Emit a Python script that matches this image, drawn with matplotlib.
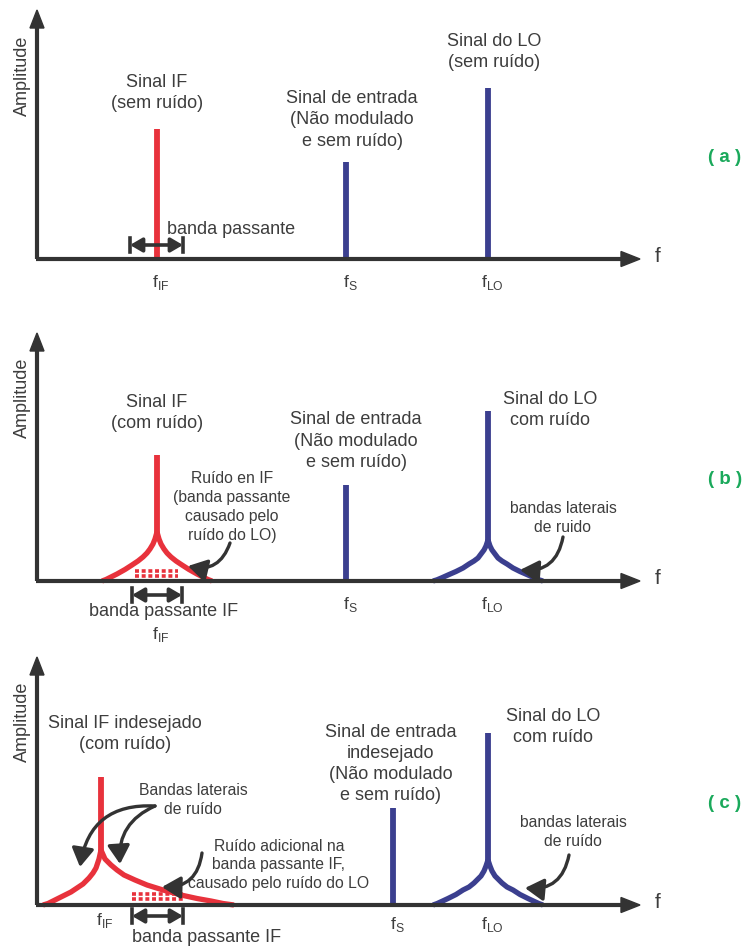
import matplotlib
matplotlib.use("Agg")
import matplotlib.pyplot as plt
from matplotlib.patches import Polygon

plt.rcParams['font.family'] = ['Liberation Sans', 'DejaVu Sans']
plt.rcParams['mathtext.fontset'] = 'custom'
plt.rcParams['mathtext.rm'] = 'Liberation Sans'

# ---------------- data (units: px-like offsets from the axes origin) -------------
panel_ids = ["a", "b", "c"]
panel_baseline = [259, 581, 905]          # baseline row of each panel
panel_top = [0, 320, 640]
freq_labels = [r"$\mathrm{f}_{\mathrm{IF}}$", r"$\mathrm{f}_{\mathrm{S}}$", r"$\mathrm{f}_{\mathrm{LO}}$"]

# spectral lines: [IF, S, LO]
freq_a = [120, 309, 451]
amp_a = [130, 97, 171]
freq_b = [120, 309, 451]
amp_b = [126, 96, 170]
freq_c = [64, 356, 451]
amp_c = [128, 97, 172]

# noise skirts: offset from carrier, height
skirt_b_if_d = [0, 2, 4, 7, 10, 14, 19, 25, 32, 40, 46, 51, 55]
skirt_b_if_h = [49, 42, 37, 32, 28, 24, 20, 16, 11.5, 7, 4, 1.5, 0]
skirt_b_lo_d = [0, 2, 4, 7, 10, 14, 19, 25, 32, 40, 46, 51, 55]
skirt_b_lo_h = [41, 35, 31, 27, 23, 20, 17, 13, 9.5, 6, 3.3, 1.2, 0]
skirt_c_if_left_d = [0, -2, -5, -8, -12, -18, -24, -30, -40, -47, -53, -58]
skirt_c_if_left_h = [55, 46, 37, 32, 27, 21, 17, 13, 8, 4.5, 1.5, 0]
skirt_c_if_right_d = [0, 4, 10, 16, 23, 34, 46, 62, 80, 96, 110, 122, 133]
skirt_c_if_right_h = [55, 46, 40, 35, 30, 25, 20, 15, 10, 6.5, 4, 1.5, 0]
skirt_c_lo_d = [0, 2, 4, 7, 10, 14, 19, 25, 32, 40, 46, 51, 55]
skirt_c_lo_h = [45, 39, 34, 29, 26, 22, 18, 15, 10.5, 6.5, 3.7, 1.4, 0]

# IF passband (x range) and noise rows inside it
band_b = [95, 145]
band_c = [95, 146]
noise_b_x = [98, 141]
noise_b_rows = [5, 10]
noise_c_x = [95, 146]
noise_c_rows = [6, 11]

RED = "#e8323c"
BLUE = "#3b3f8f"
AX = "#333333"
TXT = "#3d3d3d"
GREEN = "#1aa95b"

FS = 13
FS_SMALL = 11.3
LS = 1.31

W, H = 747, 948
fig = plt.figure(figsize=(W / 100, H / 100), dpi=100)
fig.patch.set_facecolor("white")

axes = {}
for pid, base, top in zip(panel_ids, panel_baseline, panel_top):
    ax = fig.add_axes([0, (H - base) / H, 1, (base - top) / H])
    ax.set_xlim(-37, W - 37)
    ax.set_ylim(0, base - top)
    ax.axis("off")
    axes[pid] = ax


def draw_axes(ax, ytip=248, xtip=603):
    ax.plot([0, 0], [0, ytip - 14], color=AX, lw=3, clip_on=False, solid_capstyle="butt")
    ax.plot([-1, xtip - 14], [0, 0], color=AX, lw=3, clip_on=False, solid_capstyle="butt", zorder=5)
    ax.add_patch(Polygon([[-7, ytip - 18], [7, ytip - 18], [0, ytip]], closed=True,
                         color=AX, clip_on=False))
    ax.add_patch(Polygon([[xtip - 19, -7.5], [xtip - 19, 7.5], [xtip, 0]], closed=True,
                         color=AX, clip_on=False, zorder=5))
    ax.text(621, 2, "f", fontsize=15, color=TXT, ha="center", va="center")
    ax.text(-15, 183, "Amplitude", fontsize=FS, color=TXT, rotation=90,
            ha="center", va="center")


def spikes(ax, freqs, amps, starts=(0, 0, 0)):
    colors = [RED, BLUE, BLUE]
    for f, a, c, s in zip(freqs, amps, colors, starts):
        ax.plot([f, f], [s, a], color=c, lw=4.2, solid_capstyle="butt", clip_on=False, zorder=3)


def skirt(ax, f0, d, h, color, mirror=True):
    ax.plot([f0 + v for v in d], h, color=color, lw=3.8, clip_on=False, zorder=3,
            solid_joinstyle="round", solid_capstyle="butt")
    if mirror:
        ax.plot([f0 - v for v in d], h, color=color, lw=3.8, clip_on=False, zorder=3,
                solid_joinstyle="round", solid_capstyle="butt")


def flabels(ax, freqs, ys):
    for f, lab, y in zip(freqs, freq_labels, ys):
        ax.text(f + 4, y, lab, fontsize=12.5, color=TXT, ha="center", va="center")


def bracket(ax, x0, x1, y):
    ax.annotate("", xy=(x1, y), xytext=(x0, y),
                arrowprops=dict(arrowstyle="<|-|>,head_length=0.6,head_width=0.35",
                                lw=2.6, color=AX, shrinkA=0, shrinkB=0,
                                mutation_scale=12), annotation_clip=False)
    for x in (x0, x1):
        ax.plot([x, x], [y - 7, y + 7], color=AX, lw=2.6, clip_on=False)


def noise(ax, xs, rows):
    for r in rows:
        ax.plot(xs, [r, r], color=RED, lw=2.6, dashes=(1.1, 0.75), clip_on=False,
                solid_capstyle="butt", dash_capstyle="butt", zorder=2)


def carrow(ax, start, end, rad):
    ax.annotate("", xy=end, xytext=start,
                arrowprops=dict(arrowstyle="-|>,head_length=0.75,head_width=0.45",
                                lw=2.4, color=AX, shrinkA=0, shrinkB=0,
                                mutation_scale=15,
                                connectionstyle=f"arc3,rad={rad}"),
                annotation_clip=False)


def tag(ax, s):
    ax.text(688, 102, s, fontsize=13.5, fontweight="bold", color=GREEN,
            ha="center", va="center")


def label(ax, x, y, s, small=False):
    ax.text(x, y, s, fontsize=FS_SMALL if small else FS, color=TXT, ha="center",
            va="center", linespacing=LS)


# ---------------- panel (a) ----------------
ax = axes["a"]
draw_axes(ax, ytip=249)
spikes(ax, freq_a, amp_a)
flabels(ax, freq_a, [-24, -24, -24])
bracket(ax, 93, 146, 14)
ax.text(130, 29, "banda passante", fontsize=FS, color=TXT, ha="left", va="center")
label(ax, 120, 166, "Sinal IF\n(sem ruído)")
label(ax, 315, 139, "Sinal de entrada\n(Não modulado\ne sem ruído)")
label(ax, 457, 207, "Sinal do LO\n(sem ruído)")
tag(ax, "( a )")

# ---------------- panel (b) ----------------
ax = axes["b"]
draw_axes(ax, ytip=248)
spikes(ax, freq_b, amp_b, starts=(skirt_b_if_h[0] - 1, 0, skirt_b_lo_h[0] - 1))
skirt(ax, freq_b[0], skirt_b_if_d, skirt_b_if_h, RED)
skirt(ax, freq_b[2], skirt_b_lo_d, skirt_b_lo_h, BLUE)
noise(ax, noise_b_x, noise_b_rows)
flabels(ax, [freq_b[0], freq_b[1], freq_b[2]], [-53, -23, -23])
bracket(ax, band_b[0], band_b[1], -14)
label(ax, 127, -30, "banda passante IF")
label(ax, 120, 168, "Sinal IF\n(com ruído)")
label(ax, 319, 140, "Sinal de entrada\n(Não modulado\ne sem ruído)")
label(ax, 513, 171, "Sinal do LO\ncom ruído")
label(ax, 195, 74, "Ruído en IF\n(banda passante\ncausado pelo\nruído do LO)", small=True)
label(ax, 526, 63, "bandas laterais\nde ruido", small=True)
carrow(ax, (193, 38), (151, 15), -0.45)
carrow(ax, (526, 44), (483, 11), -0.45)
tag(ax, "( b )")

# ---------------- panel (c) ----------------
ax = axes["c"]
draw_axes(ax, ytip=248)
spikes(ax, freq_c, amp_c, starts=(skirt_c_if_left_h[0] - 1, 0, skirt_c_lo_h[0] - 1))
skirt(ax, freq_c[0], skirt_c_if_left_d, skirt_c_if_left_h, RED, mirror=False)
skirt(ax, freq_c[0], skirt_c_if_right_d, skirt_c_if_right_h, RED, mirror=False)
skirt(ax, freq_c[2], skirt_c_lo_d, skirt_c_lo_h, BLUE)
noise(ax, noise_c_x, noise_c_rows)
flabels(ax, freq_c, [-15, -20, -20])
bracket(ax, band_c[0], band_c[1], -11)
label(ax, 170, -32, "banda passante IF")
label(ax, 88, 171, "Sinal IF indesejado\n(com ruído)")
label(ax, 354, 141, "Sinal de entrada\nindesejado\n(Não modulado\ne sem ruído)")
label(ax, 516, 178, "Sinal do LO\ncom ruído")
label(ax, 156, 105, "Bandas laterais\nde ruído", small=True)
label(ax, 242, 40, "Ruído adicional na\nbanda passante IF,\ncausado pelo ruído do LO", small=True)
label(ax, 536, 73, "bandas laterais\nde ruído", small=True)
carrow(ax, (118, 99), (43, 38), 0.45)
carrow(ax, (118, 99), (83, 41), 0.35)
carrow(ax, (165, 52), (125, 18), -0.45)
carrow(ax, (532, 50), (488, 17), -0.45)
tag(ax, "( c )")

fig.savefig("out.png", dpi=100, facecolor="white")
